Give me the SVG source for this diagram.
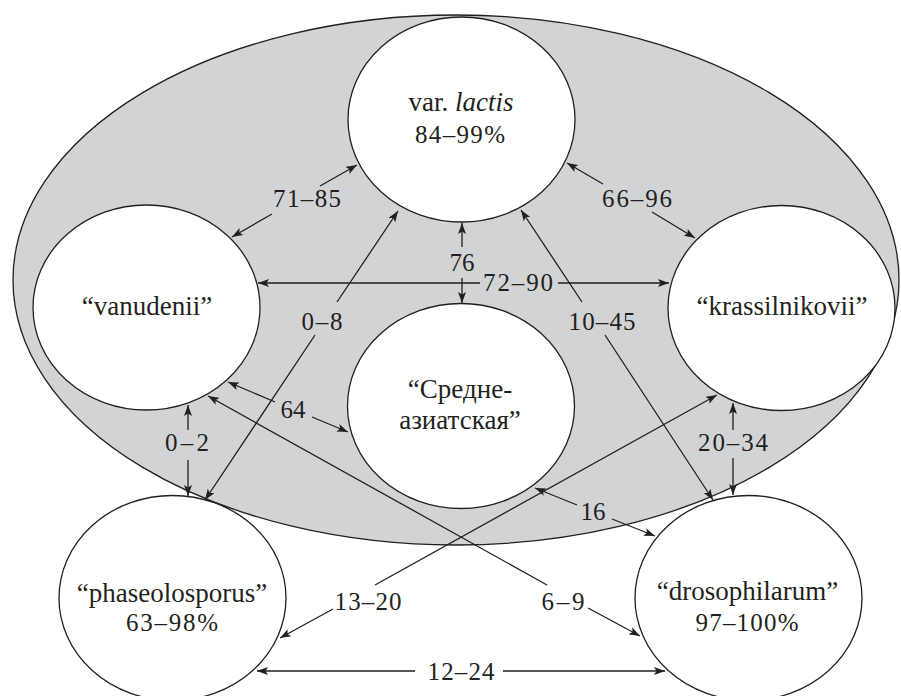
<svg xmlns="http://www.w3.org/2000/svg" width="901" height="696" viewBox="0 0 901 696">
<style>
.bg{fill:#d2d3d5;stroke:#231f20;stroke-width:1.3}
.node{fill:#ffffff;stroke:#231f20;stroke-width:1.3}
text{fill:#231f20;text-anchor:middle}
.name{font-size:27px}
.num{font-size:25px}
.conn{fill:none;stroke:#231f20;stroke-width:1.3;marker-start:url(#ah);marker-end:url(#ah)}
</style>
<defs>
<marker id="ah" viewBox="0 0 11 8" refX="11" refY="4" markerWidth="11" markerHeight="8" markerUnits="userSpaceOnUse" orient="auto-start-reverse">
<path d="M0,0 L11,4 L0,8 L2.5,4 z" fill="#231f20"/>
</marker>
</defs>
<rect width="901" height="696" fill="#ffffff"/>
<g id="group-background">
<ellipse class="bg" cx="456" cy="280" rx="443" ry="265"/>
</g>
<g font-family="Times New Roman, Tinos, Liberation Serif, DejaVu Serif, FreeSerif, serif">
<g id="connectors">
<path class="conn" d="M357,165 L320,186 M272,214 L232,237"/>
<path class="conn" d="M567,163 L603,184 M652,212 L695,238"/>
<path class="conn" d="M258,283 L480,283 M558,283 L669,283"/>
<path class="conn" d="M462,223 L462,247 M462,278 L462,303"/>
<path class="conn" d="M398,211 L337,302 M315,335 L205,500"/>
<path class="conn" d="M521,210 L582,302 M605,335 L713,500"/>
<path class="conn" d="M228,382 L275,402 M312,417 L348,432"/>
<path class="conn" d="M188,405 L188,430 M188,460 L188,496"/>
<path class="conn" d="M208,396 L547,585 M588,608 L640,636"/>
<path class="conn" d="M717,395 L375,585 M333,609 L280,638"/>
<path class="conn" d="M535,488 L577,505 M612,519 L655,536"/>
<path class="conn" d="M733,403 L733,430 M733,458 L733,495"/>
<path class="conn" d="M257,671 L415,671 M503,671 L665,671"/>
<text class="num" x="307" y="207" textLength="68" lengthAdjust="spacing">71–85</text>
<text class="num" x="637" y="207" textLength="70" lengthAdjust="spacing">66–96</text>
<text class="num" x="518" y="291" textLength="70" lengthAdjust="spacing">72–90</text>
<text class="num" x="462" y="271">76</text>
<text class="num" x="322" y="330" textLength="41" lengthAdjust="spacing">0–8</text>
<text class="num" x="602" y="330" textLength="67" lengthAdjust="spacing">10–45</text>
<text class="num" x="293" y="418">64</text>
<text class="num" x="187" y="451" textLength="44" lengthAdjust="spacing">0–2</text>
<text class="num" x="733" y="451" textLength="70" lengthAdjust="spacing">20–34</text>
<text class="num" x="593" y="520">16</text>
<text class="num" x="368" y="610" textLength="67" lengthAdjust="spacing">13–20</text>
<text class="num" x="563" y="610" textLength="43" lengthAdjust="spacing">6–9</text>
<text class="num" x="461" y="680" textLength="67" lengthAdjust="spacing">12–24</text>
</g>
<g id="node-lactis">
<ellipse class="node" cx="461.5" cy="119.5" rx="113.5" ry="102.5"/>
<text class="name" x="461" y="111">var. <tspan font-style="italic">lactis</tspan></text>
<text class="num" x="460" y="143" textLength="90" lengthAdjust="spacing">84–99%</text>
</g>
<g id="node-vanudenii">
<ellipse class="node" cx="146.5" cy="307.5" rx="113.5" ry="102.5"/>
<text class="name" x="147" y="315">“vanudenii”</text>
</g>
<g id="node-krassilnikovii">
<ellipse class="node" cx="781.5" cy="308" rx="113.5" ry="102.5"/>
<text class="name" x="782" y="315">“krassilnikovii”</text>
</g>
<g id="node-sredneaziatskaya">
<ellipse class="node" cx="461" cy="406" rx="113.5" ry="102.5"/>
<text class="name" x="460" y="398">“Средне-</text>
<text class="name" x="460" y="429">азиатская”</text>
</g>
<g id="node-phaseolosporus">
<ellipse class="node" cx="172.5" cy="598" rx="113.5" ry="102.5"/>
<text class="name" x="172" y="602">“phaseolosporus”</text>
<text class="num" x="172" y="631" textLength="92" lengthAdjust="spacing">63–98%</text>
</g>
<g id="node-drosophilarum">
<ellipse class="node" cx="748.5" cy="598" rx="113.5" ry="102.5"/>
<text class="name" x="747.5" y="600">“drosophilarum”</text>
<text class="num" x="747" y="631" textLength="103" lengthAdjust="spacing">97–100%</text>
</g>
</g>
</svg>
